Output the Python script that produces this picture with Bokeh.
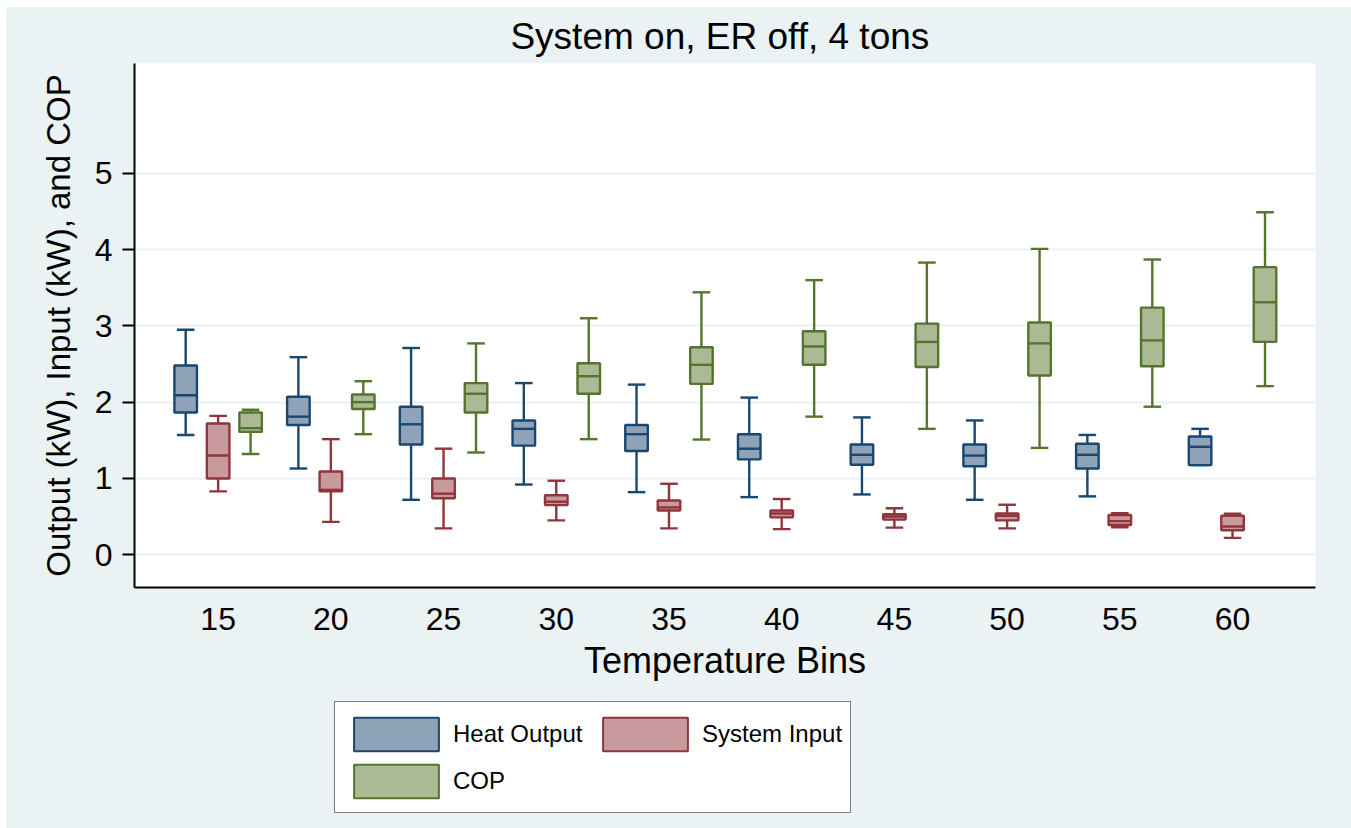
from bokeh.plotting import figure
from bokeh.models import (ColumnDataSource, FixedTicker, Legend, LegendItem,
                          Range1d, Spacer)
from bokeh.layouts import row, column
from bokeh.embed import file_html
from bokeh.resources import INLINE

# ---------------- data ----------------
bins = [15, 20, 25, 30, 35, 40, 45, 50, 55, 60]
y_ticks = [0, 1, 2, 3, 4, 5]

# Heat Output (kW): lower whisker, q1, median, q3, upper whisker
heat_lo  = [1.57, 1.13, 0.72, 0.92, 0.82, 0.755, 0.79, 0.72, 0.765, 1.175]
heat_q1  = [1.865, 1.70, 1.445, 1.43, 1.36, 1.25, 1.18, 1.16, 1.13, 1.175]
heat_med = [2.09, 1.81, 1.71, 1.65, 1.58, 1.39, 1.31, 1.30, 1.31, 1.415]
heat_q3  = [2.48, 2.07, 1.94, 1.76, 1.70, 1.58, 1.445, 1.445, 1.455, 1.55]
heat_hi  = [2.95, 2.59, 2.71, 2.25, 2.23, 2.06, 1.80, 1.76, 1.57, 1.65]

# System Input (kW)
inp_lo  = [0.83, 0.43, 0.345, 0.45, 0.345, 0.335, 0.355, 0.345, 0.36, 0.22]
inp_q1  = [1.00, 0.83, 0.74, 0.65, 0.58, 0.49, 0.46, 0.45, 0.39, 0.32]
inp_med = [1.30, 0.85, 0.80, 0.695, 0.62, 0.54, 0.50, 0.51, 0.44, 0.37]
inp_q3  = [1.72, 1.09, 1.00, 0.78, 0.71, 0.58, 0.53, 0.54, 0.52, 0.51]
inp_hi  = [1.82, 1.515, 1.39, 0.97, 0.93, 0.73, 0.61, 0.655, 0.545, 0.537]

# COP
cop_lo  = [1.32, 1.58, 1.34, 1.515, 1.51, 1.81, 1.65, 1.40, 1.94, 2.21]
cop_q1  = [1.61, 1.91, 1.865, 2.11, 2.24, 2.49, 2.46, 2.35, 2.47, 2.79]
cop_med = [1.66, 2.00, 2.11, 2.34, 2.49, 2.73, 2.79, 2.77, 2.81, 3.31]
cop_q3  = [1.865, 2.10, 2.25, 2.51, 2.72, 2.93, 3.03, 3.045, 3.24, 3.77]
cop_hi  = [1.90, 2.275, 2.77, 3.10, 3.44, 3.60, 3.83, 4.01, 3.87, 4.49]

series_names = ["Heat Output", "System Input", "COP"]

# ---------------- styles ----------------
BG = "#EAF2F3"
FILLS = ["#8EA3B8", "#C99A9D", "#ABB994"]
LINES = ["#1A476F", "#90353B", "#55752F"]
OFFSETS = [-1.44, 0.0, 1.44]
BOX_W = 1.0
CAP_W = 0.78
LW = 2.4
FONT = "Liberation Sans"

p = figure(frame_width=1181, frame_height=524, output_backend="svg",
           toolbar_location=None,
           x_range=Range1d(11.29, 63.68), y_range=Range1d(-0.43, 6.44),
           min_border_left=128, min_border_right=36, min_border_top=55,
           min_border_bottom=104)
p.border_fill_color = BG
p.background_fill_color = "white"
p.outline_line_color = None

# title
p.title.text = "System on, ER off,  4 tons"
p.title.align = "center"
p.title.text_font = FONT
p.title.text_font_size = "37px"
p.title.text_font_style = "normal"
p.title.text_color = "black"
p.title.standoff = 13

# axes
p.xaxis.ticker = FixedTicker(ticks=bins)
p.yaxis.ticker = FixedTicker(ticks=y_ticks)
p.xaxis.axis_label = "Temperature Bins"
p.yaxis.axis_label = "Output (kW), Input (kW), and COP"
for ax in (p.xaxis[0], p.yaxis[0]):
    ax.axis_line_color = "black"
    ax.axis_line_width = 2
    ax.major_label_text_font = FONT
    ax.major_label_text_font_size = "32px"
    ax.major_label_text_color = "black"
    ax.axis_label_text_font = FONT
    ax.axis_label_text_font_style = "normal"
    ax.axis_label_text_color = "black"
    ax.minor_tick_line_color = None
p.xaxis.major_tick_line_color = None
p.xaxis.major_label_standoff = 14
p.xaxis.axis_label_text_font_size = "36px"
p.xaxis.axis_label_standoff = 7
p.yaxis.major_tick_line_color = "black"
p.yaxis.major_tick_line_width = 2
p.yaxis.major_tick_out = 12
p.yaxis.major_tick_in = 0
p.yaxis.major_label_standoff = 10
p.yaxis.axis_label_text_font_size = "33px"
p.yaxis.axis_label_standoff = 15

p.xgrid.grid_line_color = None
p.ygrid.grid_line_color = BG
p.ygrid.grid_line_width = 2

# ---------------- boxes ----------------
all_data = [
    (heat_lo, heat_q1, heat_med, heat_q3, heat_hi),
    (inp_lo, inp_q1, inp_med, inp_q3, inp_hi),
    (cop_lo, cop_q1, cop_med, cop_q3, cop_hi),
]
for name, (lo, q1, med, q3, hi), off, fc, lc in zip(series_names, all_data,
                                                    OFFSETS, FILLS, LINES):
    xs = [b + off for b in bins]
    src = ColumnDataSource(dict(
        x=xs,
        xl=[x - BOX_W / 2 for x in xs], xr=[x + BOX_W / 2 for x in xs],
        cl=[x - CAP_W / 2 for x in xs], cr=[x + CAP_W / 2 for x in xs],
        lo=lo, q1=q1, med=med, q3=q3, hi=hi))
    p.segment(x0="x", y0="lo", x1="x", y1="hi", source=src,
              line_color=lc, line_width=LW)
    p.segment(x0="cl", y0="lo", x1="cr", y1="lo", source=src,
              line_color=lc, line_width=LW)
    p.segment(x0="cl", y0="hi", x1="cr", y1="hi", source=src,
              line_color=lc, line_width=LW)
    p.vbar(x="x", width=BOX_W, bottom="q1", top="q3", source=src,
           fill_color=fc, line_color=lc, line_width=LW)
    p.segment(x0="xl", y0="med", x1="xr", y1="med", source=src,
              line_color=lc, line_width=LW)

# ---------------- legend (own strip below the plot) ----------------
LEG_H = 138
lf = figure(width=1345, height=LEG_H, output_backend="svg",
            toolbar_location=None, x_axis_location=None, y_axis_location=None,
            x_range=Range1d(0, 1), y_range=Range1d(0, 1),
            min_border_left=0, min_border_right=0, min_border_top=0,
            min_border_bottom=0)
lf.border_fill_color = BG
lf.background_fill_color = None
lf.outline_line_color = None
lf.xgrid.grid_line_color = None
lf.ygrid.grid_line_color = None

legend_items = []
for name, fc, lc in zip(series_names, FILLS, LINES):
    # swatch renderer kept outside the visible range; only its legend shows
    r = lf.vbar(x=[-10], width=0.1, top=[-10], bottom=[-11], fill_color=fc,
                line_color=lc, line_width=2)
    legend_items.append(LegendItem(label=name, renderers=[r]))

legend = Legend(items=legend_items, orientation="horizontal", ncols=2,
                location=(200, 16), margin=0, padding=8, spacing=0,
                glyph_width=106, glyph_height=42, label_standoff=4,
                label_width=139, label_height=47,
                label_text_font=FONT,
                label_text_font_size="24px", label_text_color="black",
                border_line_color="black", border_line_width=1.5,
                background_fill_color="white", background_fill_alpha=1.0)
lf.add_layout(legend, "center")

layout = column(Spacer(width=1351, height=7),
                row(Spacer(width=6, height=821),
                    column(p, lf, styles={"background-color": BG})))

open("out.html", "w").write(file_html(layout, INLINE))
